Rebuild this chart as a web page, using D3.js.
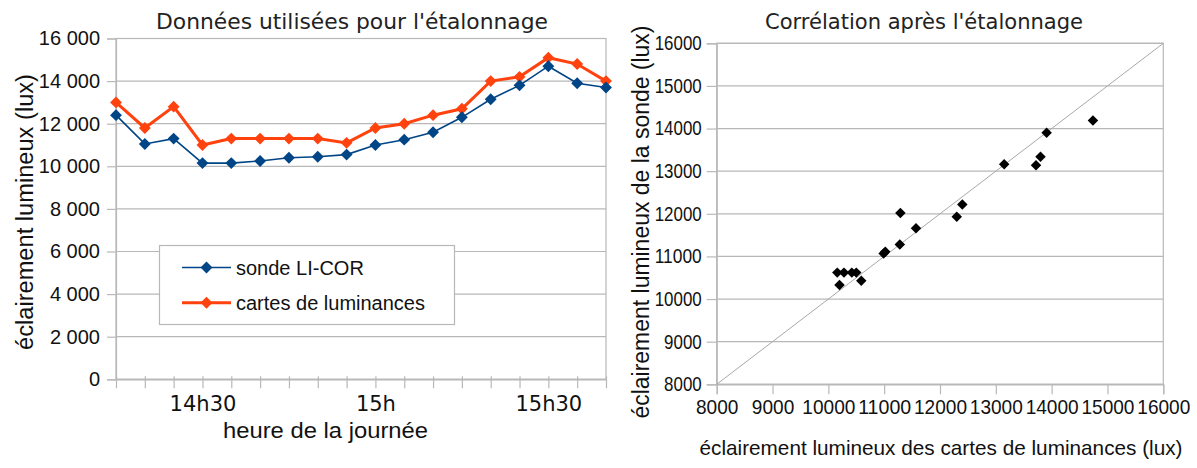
<!DOCTYPE html>
<html>
<head>
<meta charset="utf-8">
<script src="https://cdn.jsdelivr.net/npm/d3@7"></script>
<style>
  html, body { margin: 0; padding: 0; background: #fff; }
  svg { display: block; }
</style>
</head>
<body>
<svg id="chart" width="1197" height="468"></svg>
<script>
// Time of each measurement (5-minute steps)
const timeCategories = ["14h15","14h20","14h25","14h30","14h35","14h40","14h45","14h50","14h55",
                        "15h","15h05","15h10","15h15","15h20","15h25","15h30","15h35","15h40"];
const timeTickLabels = ["14h30","15h","15h30"];

// Illuminance (lux) measured by the LI-COR probe
const sondeValues  = [12400,11050,11300,10150,10150,10250,10400,10450,10550,
                      11000,11250,11600,12300,13150,13800,14700,13900,13700];
// Illuminance (lux) derived from the luminance maps
const cartesValues = [13000,11800,12800,11000,11300,11300,11300,11300,11100,
                      11800,12000,12400,12700,14000,14200,15100,14800,14000];

const leftYTicks = [0,2000,4000,6000,8000,10000,12000,14000,16000];

// Correlation after calibration: maps (x) vs probe (y)
const scatterCartes = [14740,13910,13800,13720,13150,12400,12300,11290,11570,
                       11280,11020,10990,10160,10280,10420,10500,10200,10590];
const scatterSonde  = [14190,13900,13340,13140,13160,12220,11930,12020,11660,
                       11280,11110,11070,10620,10620,10620,10620,10330,10430];
const scatterTicks = [8000,9000,10000,11000,12000,13000,14000,15000,16000];

const seriesNames = ["sonde LI-COR","cartes de luminances"];
const seriesColors = ["#004586","#ff420e"];

const svg = d3.select("#chart");
const gridColor = "#b8b8b8";
const sans = "'Liberation Sans', Arial, sans-serif";
const deja = "'DejaVu Sans', sans-serif";

const frLocale = d3.formatLocale({decimal: ",", thousands: " ", grouping: [3], currency: ["", " €"]});
const fmtThousands = frLocale.format(",");

const diamond = d3.symbol().type(d3.symbolDiamond2);

// ---------------- Left chart: time series ----------------
const L = {left: 116, right: 606, top: 38.5, bottom: 379.3};
const xL = d3.scalePoint().domain(timeCategories).range([L.left, L.right]);
const yL = d3.scaleLinear().domain([0, 16000]).range([L.bottom, L.top]);

const gL = svg.append("g");

// horizontal gridlines
gL.append("g").selectAll("line").data(leftYTicks).join("line")
  .attr("x1", L.left).attr("x2", L.right)
  .attr("y1", d => yL(d)).attr("y2", d => yL(d))
  .attr("stroke", gridColor).attr("stroke-width", 1.2);

// plot frame
gL.append("rect")
  .attr("x", L.left).attr("y", L.top)
  .attr("width", L.right - L.left).attr("height", L.bottom - L.top)
  .attr("fill", "none").attr("stroke", gridColor).attr("stroke-width", 1.2);

// y axis
const yAxisL = gL.append("g").attr("transform", `translate(${L.left},0)`)
  .call(d3.axisLeft(yL).tickValues(leftYTicks).tickFormat(fmtThousands).tickSize(9).tickPadding(7));
yAxisL.select(".domain").attr("stroke", gridColor).attr("stroke-width", 1.2);
yAxisL.selectAll(".tick line").attr("stroke", gridColor).attr("stroke-width", 1.2);
yAxisL.selectAll(".tick text").attr("font-family", sans).attr("font-size", 20).attr("fill", "#111");

// x axis: a tick at every sample, labels on the half hours
const xAxisL = gL.append("g").attr("transform", `translate(0,${L.bottom})`)
  .call(d3.axisBottom(xL).tickSizeInner(9).tickSizeOuter(0).tickPadding(8)
    .tickFormat(d => timeTickLabels.includes(d) ? d : ""));
xAxisL.select(".domain").attr("stroke", gridColor).attr("stroke-width", 1.2);
xAxisL.selectAll(".tick line").attr("y1", -3).attr("stroke", gridColor).attr("stroke-width", 1.2);
xAxisL.selectAll(".tick text").attr("font-family", deja).attr("font-size", 21).attr("fill", "#111");

// series
const seriesData = [sondeValues, cartesValues];
const lineWidths = [1.6, 3];
// draw luminance maps first so the probe sits on top where they overlap
[1, 0].forEach(s => {
  const vals = seriesData[s];
  const line = d3.line().x((d, i) => xL(timeCategories[i])).y(d => yL(d));
  gL.append("path").datum(vals)
    .attr("d", line).attr("fill", "none")
    .attr("stroke", seriesColors[s]).attr("stroke-width", lineWidths[s]);
  gL.append("g").selectAll("path").data(vals).join("path")
    .attr("d", diamond.size(90))
    .attr("transform", (d, i) => `translate(${xL(timeCategories[i])},${yL(d)})`)
    .attr("fill", seriesColors[s]);
});

// legend
const leg = gL.append("g");
leg.append("rect").attr("x", 159.5).attr("y", 245.5).attr("width", 295).attr("height", 79)
  .attr("fill", "#fff").attr("stroke", gridColor).attr("stroke-width", 1.2);
seriesNames.forEach((name, i) => {
  const y = 267.5 + i * 35.3;
  leg.append("line").attr("x1", 182).attr("x2", 231).attr("y1", y).attr("y2", y)
    .attr("stroke", seriesColors[i]).attr("stroke-width", lineWidths[i]);
  leg.append("path").attr("d", diamond.size(90)).attr("transform", `translate(206.5,${y})`)
    .attr("fill", seriesColors[i]);
  leg.append("text").attr("x", 236).attr("y", y).attr("dy", "0.35em")
    .attr("font-family", sans).attr("font-size", 20).attr("fill", "#111").text(name);
});

// titles
gL.append("text").attr("x", 352).attr("y", 29).attr("text-anchor", "middle")
  .attr("font-family", deja).attr("font-size", 21).attr("fill", "#222")
  .attr("textLength", 392).attr("lengthAdjust", "spacingAndGlyphs")
  .text("Données utilisées pour l'étalonnage");
gL.append("text").attr("x", 325.5).attr("y", 438).attr("text-anchor", "middle")
  .attr("font-family", sans).attr("font-size", 22).attr("fill", "#111")
  .attr("textLength", 205).attr("lengthAdjust", "spacingAndGlyphs")
  .text("heure de la journée");
gL.append("text").attr("transform", "translate(33,212) rotate(-90)").attr("text-anchor", "middle")
  .attr("font-family", sans).attr("font-size", 23).attr("fill", "#111")
  .attr("textLength", 276).attr("lengthAdjust", "spacingAndGlyphs")
  .text("éclairement lumineux (lux)");

// ---------------- Right chart: scatter ----------------
const R = {left: 716.7, right: 1163.3, top: 43.3, bottom: 384.3};
const xR = d3.scaleLinear().domain([8000, 16000]).range([R.left, R.right]);
const yR = d3.scaleLinear().domain([8000, 16000]).range([R.bottom, R.top]);
const gR = svg.append("g");

gR.append("g").selectAll("line").data(scatterTicks).join("line")
  .attr("x1", R.left).attr("x2", R.right)
  .attr("y1", d => yR(d)).attr("y2", d => yR(d))
  .attr("stroke", gridColor).attr("stroke-width", 1.2);
gR.append("rect")
  .attr("x", R.left).attr("y", R.top)
  .attr("width", R.right - R.left).attr("height", R.bottom - R.top)
  .attr("fill", "none").attr("stroke", gridColor).attr("stroke-width", 1.2);

const yAxisR = gR.append("g").attr("transform", `translate(${R.left},0)`)
  .call(d3.axisLeft(yR).tickValues(scatterTicks).tickFormat(d3.format("d")).tickSize(10).tickPadding(5));
yAxisR.select(".domain").attr("stroke", gridColor).attr("stroke-width", 1.2);
yAxisR.selectAll(".tick line").attr("stroke", gridColor).attr("stroke-width", 1.2);
yAxisR.selectAll(".tick text").attr("font-family", sans).attr("font-size", 20).attr("fill", "#111")
  .attr("textLength", d => String(d).length * 9.4).attr("lengthAdjust", "spacingAndGlyphs");

const xAxisR = gR.append("g").attr("transform", `translate(0,${R.bottom})`)
  .call(d3.axisBottom(xR).tickValues(scatterTicks).tickFormat(d3.format("d")).tickSize(10).tickPadding(5));
xAxisR.select(".domain").attr("stroke", gridColor).attr("stroke-width", 1.2);
xAxisR.selectAll(".tick line").attr("stroke", gridColor).attr("stroke-width", 1.2);
xAxisR.selectAll(".tick text").attr("font-family", sans).attr("font-size", 21).attr("fill", "#111")
  .attr("textLength", d => String(d).length * 10.6).attr("lengthAdjust", "spacingAndGlyphs");

// identity line y = x
gR.append("line")
  .attr("x1", xR(8000)).attr("y1", yR(8000)).attr("x2", xR(16000)).attr("y2", yR(16000))
  .attr("stroke", "#a8a8a8").attr("stroke-width", 1);

gR.append("g").selectAll("path").data(scatterCartes).join("path")
  .attr("d", diamond.size(70))
  .attr("transform", (d, i) => `translate(${xR(d)},${yR(scatterSonde[i])})`)
  .attr("fill", "#000");

gR.append("text").attr("x", 924).attr("y", 29).attr("text-anchor", "middle")
  .attr("font-family", deja).attr("font-size", 21).attr("fill", "#222")
  .attr("textLength", 318).attr("lengthAdjust", "spacingAndGlyphs")
  .text("Corrélation après l'étalonnage");
gR.append("text").attr("x", 941).attr("y", 455).attr("text-anchor", "middle")
  .attr("font-family", sans).attr("font-size", 21).attr("fill", "#111")
  .attr("textLength", 483).attr("lengthAdjust", "spacingAndGlyphs")
  .text("éclairement lumineux des cartes de luminances (lux)");
gR.append("text").attr("transform", "translate(649,222) rotate(-90)").attr("text-anchor", "middle")
  .attr("font-family", sans).attr("font-size", 23).attr("fill", "#111")
  .attr("textLength", 393).attr("lengthAdjust", "spacingAndGlyphs")
  .text("éclairement lumineux de la sonde (lux)");
</script>
</body>
</html>
